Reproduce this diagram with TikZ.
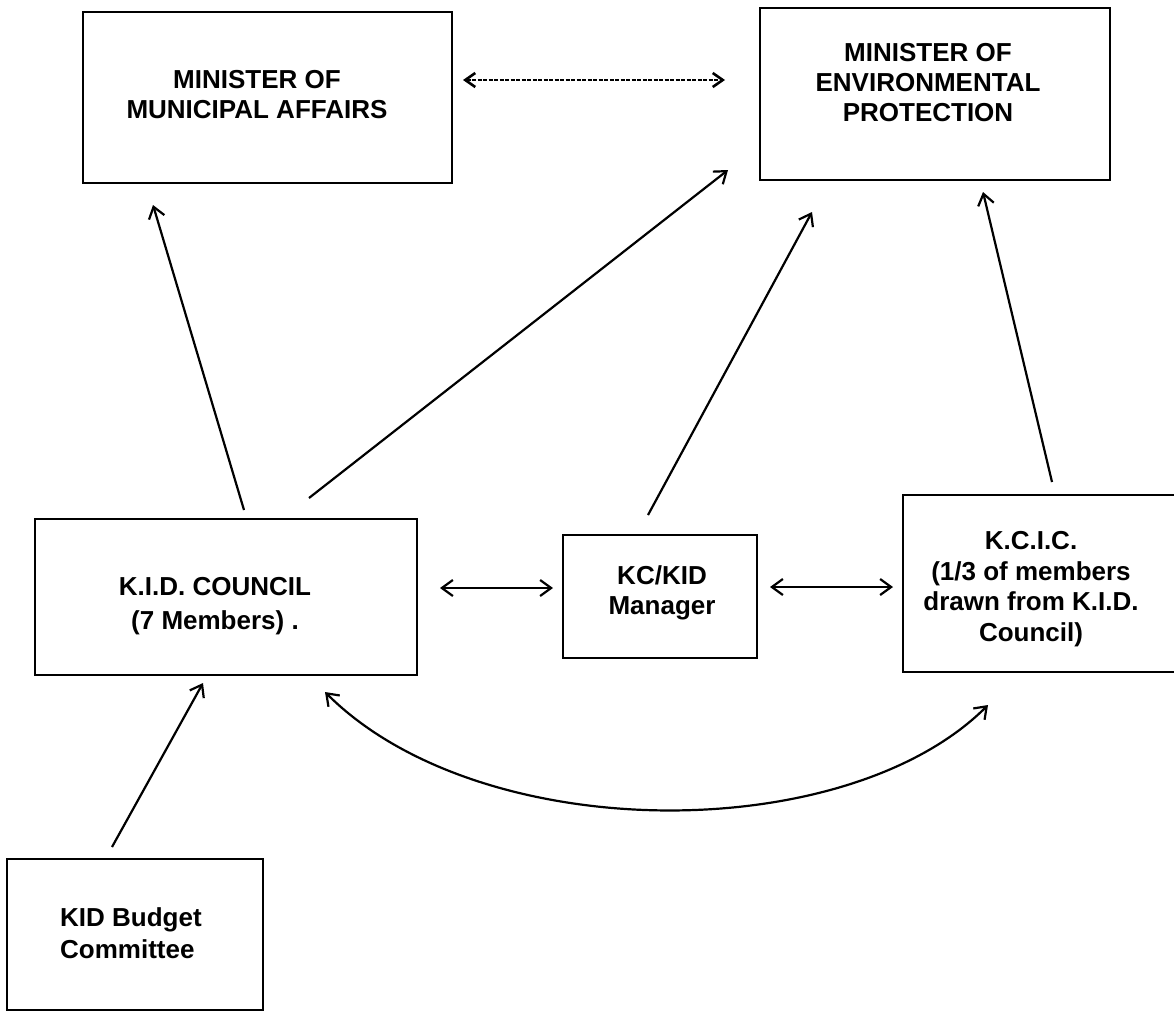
\documentclass[tikz,border=0pt]{standalone}
\usepackage{fontspec}
\setmainfont{Liberation Sans}
\usetikzlibrary{arrows.meta,calc}
\tikzset{
  boxnode/.style={draw, line width=2.8pt, rectangle, inner sep=0pt, outer sep=0pt, anchor=center},
  lbl/.style={align=center, font=\fontsize{26}{30}\selectfont\bfseries, inner sep=0pt, anchor=center},
  barb/.style={Straight Barb[length=11pt,width=16pt,line width=2.2pt]},
  conn/.style={line width=2.2pt, -{Straight Barb[length=11pt,width=16pt,line width=2.2pt]}},
  dconn/.style={line width=2.2pt, {Straight Barb[length=11pt,width=16pt,line width=2.2pt]}-{Straight Barb[length=11pt,width=16pt,line width=2.2pt]}},
  topconn/.style={line width=1.5pt, dash pattern=on 4pt off 1.5pt, {Straight Barb[length=10pt,width=14pt,line width=2.6pt]}-{Straight Barb[length=10pt,width=14pt,line width=2.6pt]}}
}
\begin{document}
\begin{tikzpicture}[x=1pt,y=-1pt]
\fill[white] (0,0) rectangle (1174,1013);
\useasboundingbox (0,0) rectangle (1174,1013);

% boxes
\node[boxnode, minimum width=369pt, minimum height=171pt] (mun) at (267.5,97.5) {};
\node[boxnode, minimum width=350pt, minimum height=172pt] (env) at (935,94) {};
\node[boxnode, minimum width=382pt, minimum height=156pt] (kid) at (226,597) {};
\node[boxnode, minimum width=194pt, minimum height=123pt] (man) at (660,596.5) {};
\node[boxnode, minimum width=275pt, minimum height=177pt] (kcic) at (1040.5,583.5) {};
\node[boxnode, minimum width=256pt, minimum height=151pt] (bud) at (135,934.5) {};

% labels
\node[lbl] (munL) at (257,95) {MINISTER OF\\MUNICIPAL AFFAIRS};
\node[lbl] (envL) at (928,83) {MINISTER OF\\ENVIRONMENTAL\\PROTECTION};
\node[lbl, font=\fontsize{26}{34}\selectfont\bfseries] (kidL) at (215,606) {K.I.D. COUNCIL\\(7 Members) .};
\node[lbl] (manL) at (662,593) {KC/KID\\Manager};
\node[lbl, font=\fontsize{26}{30.5}\selectfont\bfseries] (kcicL) at (1031,589) {K.C.I.C.\\(1/3 of members\\drawn from K.I.D.\\Council)};
\node[lbl, align=left, anchor=west, font=\fontsize{26}{32}\selectfont\bfseries] (budL) at (60,933) {KID Budget\\Committee};

% connectors
\draw[topconn] ($(mun.east)+(11,-17.5)$) -- ($(env.west)+(-35,-14)$);
\draw[conn] ($(kid.north)+(18,-9)$) -- ($(mun.south)+(-114.5,22)$);
\draw[conn] ($(kid.north)+(83,-21)$) -- ($(env.south west)+(-32,-10)$);
\draw[conn] ($(man.north)+(-12,-20)$) -- ($(env.south)+(-123,32)$);
\draw[conn] ($(kcic.north)+(11.5,-13)$) -- ($(env.south)+(48,12)$);
\draw[dconn] ($(kid.east)+(23,-9)$) -- ($(man.west)+(-10,-8.5)$);
\draw[dconn] ($(man.east)+(13,-9.5)$) -- ($(kcic.west)+(-10,3.5)$);
\draw[conn] ($(bud.north)+(-23,-12)$) -- ($(kid.south)+(-23,8)$);
\draw[dconn] ($(kid.south)+(99,17)$) .. controls +(155,155) and +(-142,142) .. ($(kcic.south)+(-52.5,33)$);
\end{tikzpicture}
\end{document}
